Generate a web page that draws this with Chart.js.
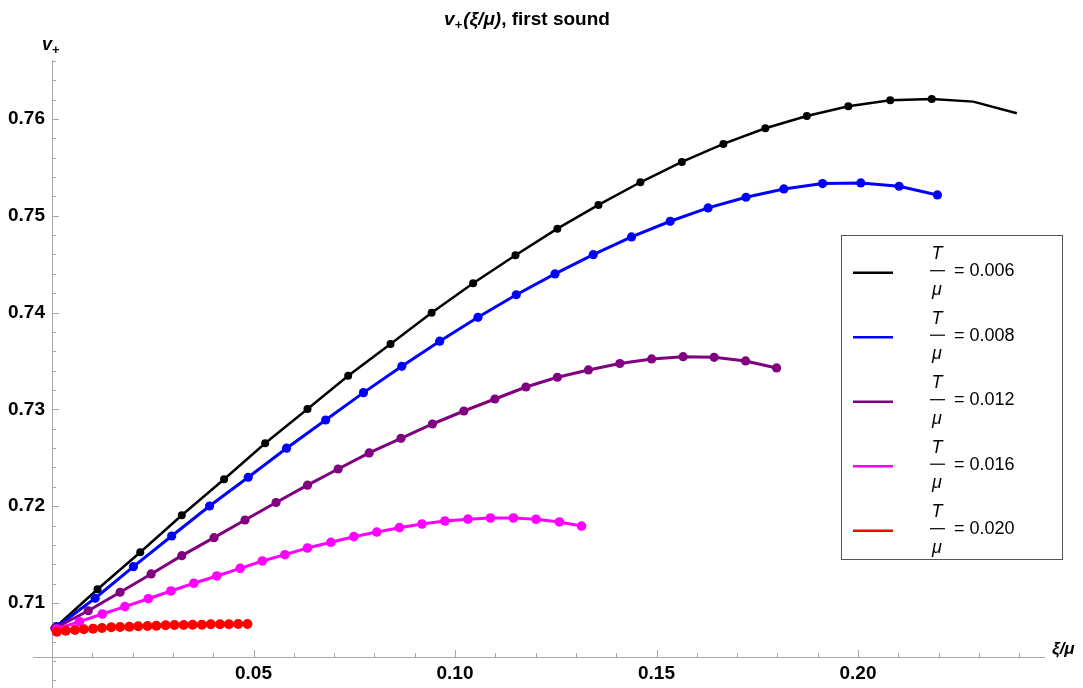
<!DOCTYPE html>
<html><head><meta charset="utf-8">
<script src="https://cdn.jsdelivr.net/npm/chart.js@4/dist/chart.umd.min.js"></script>
<style>html,body{margin:0;padding:0;background:#fff}#wrap{width:1083px;height:688px;position:relative}</style>
</head><body><div id="wrap"><canvas id="c"></canvas></div>
<script>
// ---- data ----
const tempLabels = ["0.006", "0.008", "0.012", "0.016", "0.020"];

const xBlack = [0.0010,0.0113,0.0219,0.0322,0.0427,0.0529,0.0634,0.0735,0.0840,0.0942,0.1045,0.1150,0.1254,0.1356,0.1460,0.1563,0.1666,0.1770,0.1873,0.1976,0.2080,0.2183,0.2286,0.2394];
const yBlack = [0.70755,0.71142,0.71524,0.71906,0.72278,0.72650,0.73004,0.73348,0.73676,0.73999,0.74303,0.74592,0.74867,0.75112,0.75346,0.75556,0.75742,0.75904,0.76031,0.76131,0.76193,0.76207,0.76179,0.76059];
const blackMarkedCount = 22;

const xBlue = [0.0012,0.0107,0.0202,0.0297,0.0391,0.0487,0.0582,0.0679,0.0773,0.0868,0.0962,0.1057,0.1152,0.1248,0.1343,0.1438,0.1534,0.1628,0.1722,0.1816,0.1912,0.2007,0.2102,0.2197];
const yBlue = [0.70755,0.71049,0.71375,0.71692,0.72002,0.72299,0.72599,0.72890,0.73173,0.73445,0.73704,0.73951,0.74184,0.74399,0.74598,0.74781,0.74943,0.75081,0.75191,0.75277,0.75332,0.75339,0.75305,0.75215];

const xPurple = [0.0007,0.0090,0.0169,0.0246,0.0322,0.0402,0.0479,0.0556,0.0634,0.0710,0.0787,0.0866,0.0944,0.1022,0.1099,0.1176,0.1254,0.1331,0.1409,0.1488,0.1566,0.1643,0.1721,0.1798];
const yPurple = [0.70739,0.70920,0.71111,0.71300,0.71489,0.71675,0.71857,0.72038,0.72217,0.72384,0.72550,0.72701,0.72849,0.72983,0.73107,0.73231,0.73332,0.73407,0.73474,0.73521,0.73544,0.73538,0.73500,0.73428];

const xMagenta = [0.0011,0.0068,0.0125,0.0181,0.0239,0.0295,0.0352,0.0409,0.0467,0.0522,0.0578,0.0634,0.0692,0.0749,0.0806,0.0862,0.0918,0.0975,0.1032,0.1088,0.1145,0.1201,0.1259,0.1314];
const yMagenta = [0.70731,0.70807,0.70886,0.70962,0.71044,0.71124,0.71204,0.71279,0.71358,0.71434,0.71499,0.71568,0.71627,0.71685,0.71733,0.71778,0.71816,0.71847,0.71866,0.71878,0.71878,0.71865,0.71837,0.71795];

const xRed = [0.0012,0.0034,0.0057,0.0079,0.0102,0.0124,0.0147,0.0169,0.0192,0.0214,0.0237,0.0259,0.0282,0.0304,0.0327,0.0349,0.0372,0.0394,0.0417,0.0439,0.0462,0.0485];
const yRed = [0.70704,0.70714,0.70721,0.70728,0.70735,0.70742,0.70749,0.70752,0.70755,0.70759,0.70762,0.70765,0.70770,0.70773,0.70773,0.70776,0.70776,0.70780,0.70780,0.70780,0.70783,0.70783];

const xTickValues = [0.05, 0.10, 0.15, 0.20];
const yTickValues = [0.71, 0.72, 0.73, 0.74, 0.75, 0.76];

// ---- styles ----
const FONT = '"Liberation Sans", Arial, sans-serif';
const colors = ["#000000", "#0000ff", "#800080", "#ff00ff", "#ff0000"];
const lineWidths = [2.5, 3, 3, 3, 3];
const radii = [4, 4.6, 4.6, 4.8, 5];

const zip = (xs, ys) => xs.map((x, i) => ({x, y: ys[i]}));
const seriesData = [zip(xBlack, yBlack), zip(xBlue, yBlue), zip(xPurple, yPurple), zip(xMagenta, yMagenta), zip(xRed, yRed)];

const datasets = seriesData.map((d, i) => ({
  label: 'T/μ = ' + tempLabels[i],
  data: d,
  showLine: true,
  borderColor: colors[i],
  backgroundColor: colors[i],
  pointBackgroundColor: colors[i],
  pointBorderWidth: 0,
  borderWidth: lineWidths[i],
  pointRadius: i === 0 ? (ctx => ctx.dataIndex < blackMarkedCount ? radii[0] : 0) : radii[i],
  pointHoverRadius: radii[i],
  tension: 0,
  clip: 12,
  order: seriesData.length - i
}));

function drawRich(ctx, segs, x, y, align) {
  let total = 0;
  segs.forEach(s => { ctx.font = s.f; s.w = ctx.measureText(s.t).width; total += s.w + (s.gap || 0); });
  let cx = align === 'center' ? x - total / 2 : x;
  ctx.textBaseline = 'alphabetic';
  ctx.textAlign = 'left';
  segs.forEach(s => { ctx.font = s.f; ctx.fillText(s.t, cx, y + (s.dy || 0)); cx += s.w + (s.gap || 0); });
}

const axesPlugin = {
  id: 'mmaAxes',
  beforeDatasetsDraw(chart) {
    const {ctx, chartArea, scales: {x, y}} = chart;
    const x0 = x.getPixelForValue(0);
    const yb = chartArea.bottom;
    ctx.save();
    ctx.strokeStyle = '#a8a8a8';
    ctx.lineWidth = 1;
    ctx.beginPath();
    ctx.moveTo(33, yb + 0.5); ctx.lineTo(chartArea.right, yb + 0.5);
    ctx.moveTo(Math.round(x0) + 0.5, chartArea.top); ctx.lineTo(Math.round(x0) + 0.5, chart.height);
    ctx.stroke();
    ctx.beginPath();
    for (let k = 1; k <= 24; k++) {
      const px = Math.round(x.getPixelForValue(k / 100)) + 0.5;
      const len = (k % 5 === 0) ? 7 : 4;
      ctx.moveTo(px, yb); ctx.lineTo(px, yb - len);
    }
    for (let k = 351; k <= 383; k++) {
      const py = Math.round(y.getPixelForValue(k * 0.002)) + 0.5;
      const len = (k % 5 === 0) ? 7 : 4;
      ctx.moveTo(x0, py); ctx.lineTo(x0 + len, py);
    }
    ctx.stroke();
    ctx.restore();
  },
  afterDraw(chart) {
    const {ctx, chartArea} = chart;
    ctx.save();
    ctx.fillStyle = '#000';
    // title
    drawRich(ctx, [
      {t: 'v', f: 'italic bold 19px ' + FONT},
      {t: '+', f: 'bold 13px ' + FONT, dy: 4, gap: 1},
      {t: '(ξ/μ)', f: 'italic bold 19px ' + FONT},
      {t: ', first sound', f: 'bold 19px ' + FONT}
    ], 527, 25, 'center');
    // y axis label
    drawRich(ctx, [
      {t: 'v', f: 'italic bold 18px ' + FONT},
      {t: '+', f: 'bold 13px ' + FONT, dy: 4}
    ], 42, 50, 'left');
    // x axis label
    drawRich(ctx, [
      {t: 'ξ/μ', f: 'italic bold 17px ' + FONT}
    ], 1052, chartArea.bottom - 3, 'left');

    // legend
    ctx.strokeStyle = '#555';
    ctx.lineWidth = 1;
    ctx.strokeRect(841.5, 235.5, 221, 324);
    chart.data.datasets.forEach((ds, i) => {
      const y0 = 272.7 + 64.5 * i;
      ctx.strokeStyle = ds.borderColor;
      ctx.lineWidth = 2.5;
      ctx.beginPath(); ctx.moveTo(853, y0); ctx.lineTo(893, y0); ctx.stroke();
      ctx.fillStyle = '#000';
      ctx.font = 'italic 18px ' + FONT;
      ctx.textAlign = 'center';
      ctx.textBaseline = 'alphabetic';
      ctx.fillText('T', 937, y0 - 13.5);
      ctx.fillText('μ', 937, y0 + 22);
      ctx.strokeStyle = '#000';
      ctx.lineWidth = 1.2;
      ctx.beginPath(); ctx.moveTo(930, y0 - 2); ctx.lineTo(945, y0 - 2); ctx.stroke();
      ctx.font = '18px ' + FONT;
      ctx.textAlign = 'left';
      ctx.textBaseline = 'middle';
      ctx.fillText('= ' + tempLabels[i], 954, y0 - 1.5);
    });
    ctx.restore();
  }
};

new Chart(document.getElementById('c'), {
  type: 'scatter',
  data: {datasets},
  options: {
    responsive: true,
    maintainAspectRatio: false,
    animation: false,
    devicePixelRatio: 1,
    layout: {padding: {left: 0, right: 38, top: 60, bottom: 0}},
    plugins: {legend: {display: false}, title: {display: false}, tooltip: {enabled: false}},
    scales: {
      x: {
        type: 'linear', position: 'bottom', min: 0, max: 0.2464,
        grid: {display: false, drawTicks: false},
        border: {display: false},
        afterBuildTicks: s => { s.ticks = xTickValues.map(v => ({value: v})); },
        afterFit: s => { s.height = 31; },
        ticks: {padding: 5, color: '#000', font: {family: FONT, size: 19, weight: 'bold'},
                maxRotation: 0, autoSkip: false, callback: v => v.toFixed(2)}
      },
      y: {
        type: 'linear', position: 'left', min: 0.70442, max: 0.76609,
        grid: {display: false, drawTicks: false},
        border: {display: false},
        afterBuildTicks: s => { s.ticks = yTickValues.map(v => ({value: v})); },
        afterFit: s => { s.width = 52; },
        ticks: {padding: 7, color: '#000', font: {family: FONT, size: 19, weight: 'bold'},
                autoSkip: false, callback: v => v.toFixed(2)}
      }
    }
  },
  plugins: [axesPlugin]
});
</script>
</body></html>
